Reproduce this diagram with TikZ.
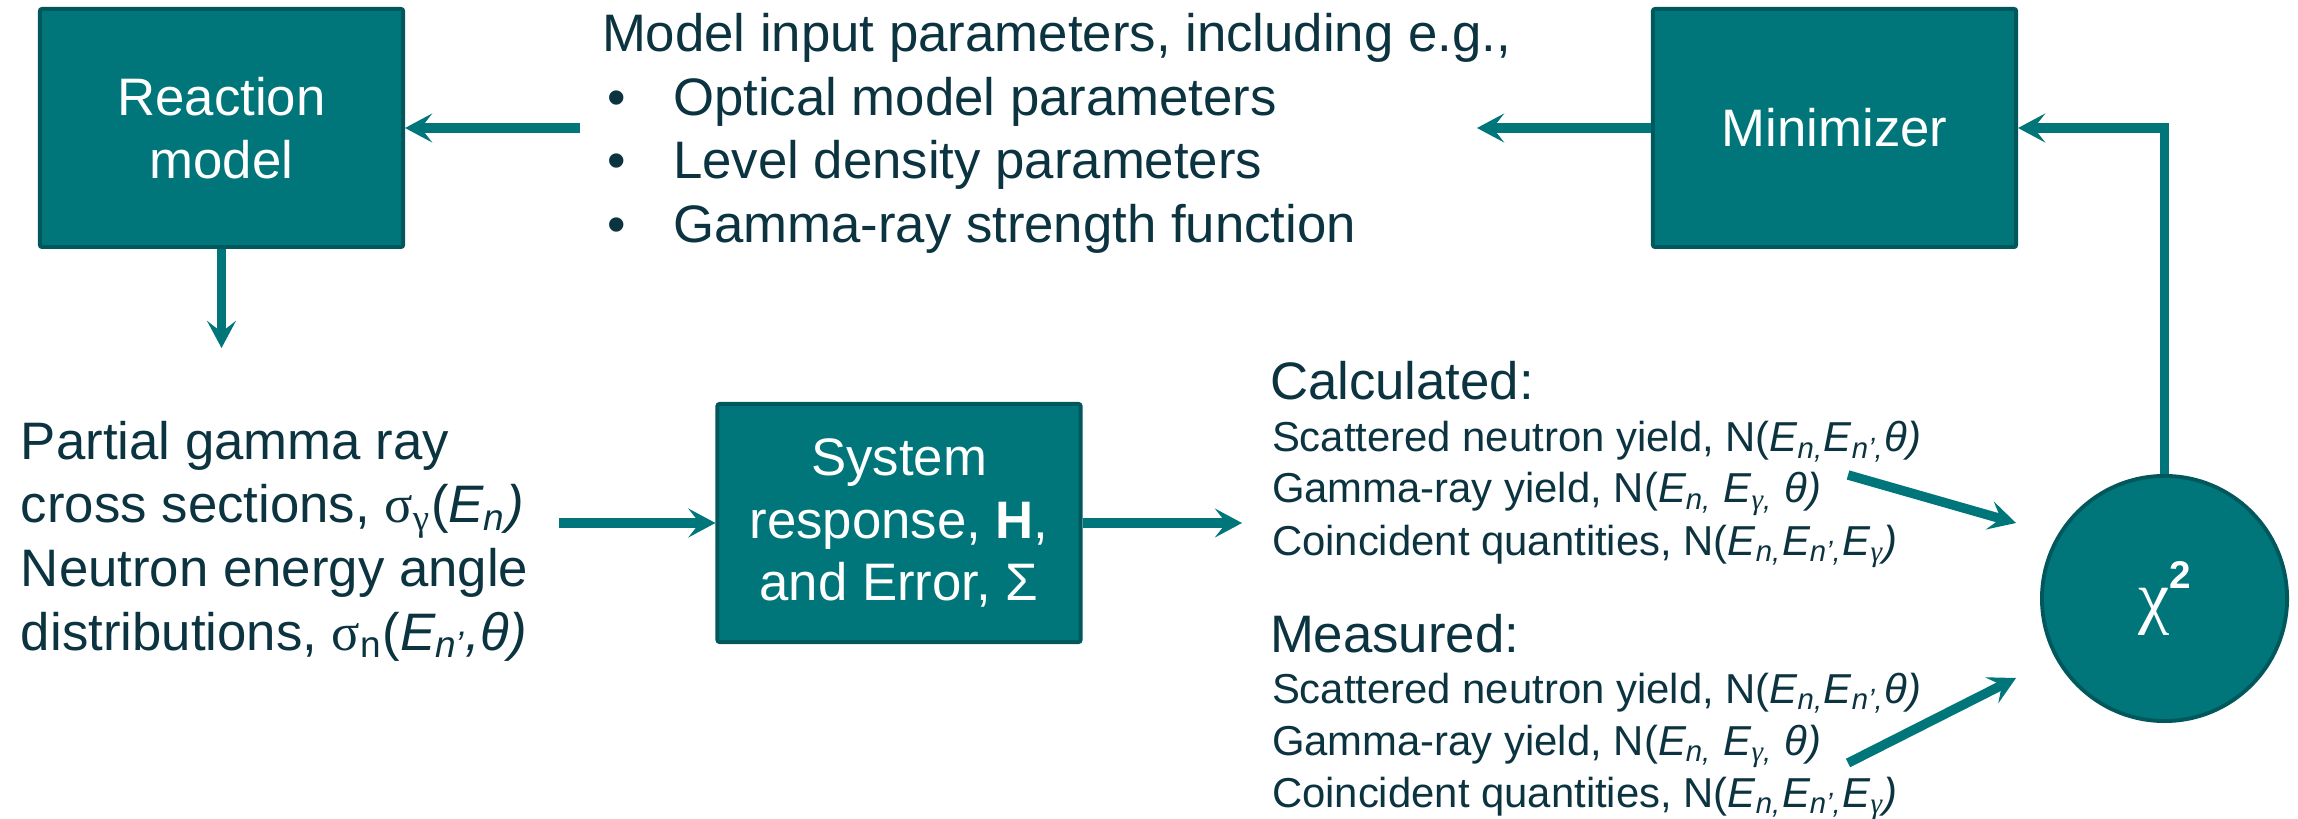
\documentclass[tikz,border=0pt]{standalone}
\usepackage{fontspec}
\setmainfont{Liberation Sans}
\newfontfamily\symgreek{Liberation Serif}
\usetikzlibrary{arrows.meta}

\definecolor{boxfill}{HTML}{00767B}
\definecolor{boxedge}{HTML}{00575C}
\definecolor{ink}{HTML}{0B3340}

\newcommand\fsbig{\fontsize{15}{17.9}\selectfont}
\newcommand\fssmall{\fontsize{11.9}{14.6}\selectfont}
\newcommand\gk[1]{{\symgreek #1}}

\begin{document}
\begin{tikzpicture}[x=0.01cm,y=-0.01cm,
  box/.style={draw=boxedge, line width=1.1pt, fill=boxfill, rounded corners=0.6pt,
    minimum width=3.63cm, minimum height=2.38cm, inner sep=0pt,
    text=white, align=center, font=\fsbig},
  conn/.style={draw=boxfill, line width=2.7pt,
    -{Stealth[length=7.7pt,width=8.2pt,inset=3.2pt]}},
  txt/.style={anchor=base west, inner sep=0pt, outer sep=0pt, text=ink, font=\fsbig},
  stxt/.style={txt, font=\fssmall}]

\useasboundingbox (0,0) rectangle (2298,819);

% blocks
\node[box] (reaction)  at (221.5,128) {Reaction\\model};
\node[box] (system)    at (899,523)   {System\\response, \textbf{H},\\and Error, Σ};
\node[box] (minimizer) at (1834.5,128) {Minimizer};
\node[circle, draw=boxedge, line width=1.1pt, fill=boxfill, minimum size=2.45cm,
      inner sep=0pt, text=white] (chi) at (2164.5,598.5)
      {{\fontsize{20}{22}\selectfont\gk{χ}}\raisebox{9pt}{\fontsize{11}{12}\selectfont\bfseries 2}};

% model input parameters
\node[txt] (inhead) at (602,52)    {Model input parameters, including e.g.,};
\node[txt] (b1)     at (607,115.5) {•};
\node[txt] (i1)     at (673,115.5) {Optical model parameters};
\node[txt] (b2)     at (607,179)   {•};
\node[txt] (i2)     at (673,179)   {Level density parameters};
\node[txt] (b3)     at (607,242.5) {•};
\node[txt] (i3)     at (673,242.5) {Gamma-ray strength function};

% partial cross sections
\node[txt] (p1) at (21,460) {Partial gamma ray};
\node[txt] (p2) at (21,523) {cross sections, \gk{σ}\textsubscript{\gk{γ}}(\textit{E\textsubscript{n})}};
\node[txt] (p3) at (21,587) {Neutron energy angle};
\node[txt] (p4) at (21,650) {distributions, \gk{σ}\textsubscript{n}(\textit{E\textsubscript{n’},θ)}};

% calculated quantities
\node[txt]  (calc)  at (1270,400) {Calculated:};
\node[stxt] (c1) at (1272,452) {Scattered neutron yield, N(\textit{E\textsubscript{n,}E\textsubscript{n’,}θ)}};
\node[stxt] (c2) at (1272,503) {Gamma-ray yield, N(\textit{E\textsubscript{n,} E\textsubscript{\gk{γ},} θ)}};
\node[stxt] (c3) at (1272,555) {Coincident quantities, N(\textit{E\textsubscript{n,}E\textsubscript{n’,}E\textsubscript{\gk{γ}})}};

% measured quantities
\node[txt]  (meas)  at (1270,652) {Measured:};
\node[stxt] (m1) at (1272,703) {Scattered neutron yield, N(\textit{E\textsubscript{n,}E\textsubscript{n’,}θ)}};
\node[stxt] (m2) at (1272,755) {Gamma-ray yield, N(\textit{E\textsubscript{n,} E\textsubscript{\gk{γ},} θ)}};
\node[stxt] (m3) at (1272,807) {Coincident quantities, N(\textit{E\textsubscript{n,}E\textsubscript{n’,}E\textsubscript{\gk{γ}})}};

% free ends of connectors
\coordinate (paramsOut) at (580,128);
\coordinate (xsecIn)    at (221.5,348);
\coordinate (xsecOut)   at (559,523);
\coordinate (calcIn)    at (1242,523);
\coordinate (paramsIn)  at (1477,128);
\coordinate (calcTail)  at (1848,475);
\coordinate (calcTip)   at (2016,523);
\coordinate (measTail)  at (1848,763);
\coordinate (measTip)   at (2016,678);

% connectors
\draw[conn] (paramsOut) -- (reaction.east);
\draw[conn] (reaction.south) -- (xsecIn);
\draw[conn] (xsecOut) -- (system.west);
\draw[conn] (system.east) -- (calcIn);
\draw[conn] (minimizer.west) -- (paramsIn);
\draw[conn] (calcTail) -- (calcTip);
\draw[conn] (measTail) -- (measTip);
\draw[conn] (chi.north) |- (minimizer.east);
\end{tikzpicture}
\end{document}
